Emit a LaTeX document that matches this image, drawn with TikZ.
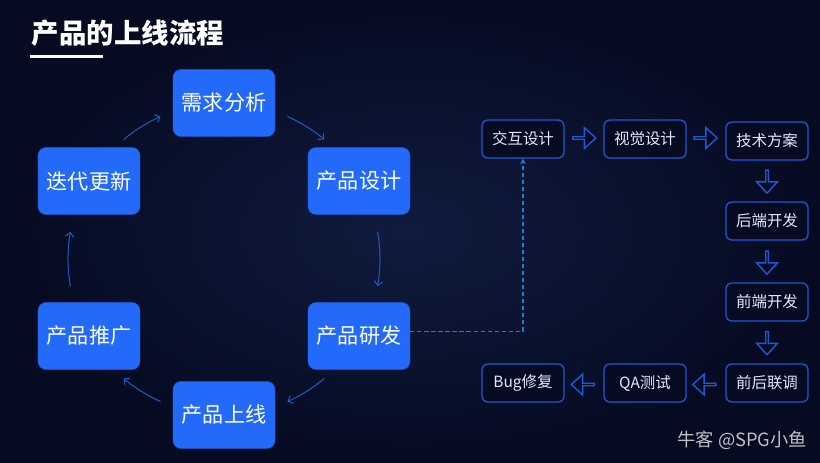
\documentclass[tikz,border=0pt]{standalone}
\usepackage{fontspec}
\setmainfont{Noto Sans CJK SC}
\usetikzlibrary{arrows.meta,shapes.arrows}
\definecolor{bgdark}{HTML}{060B22}
\definecolor{bglight}{HTML}{101B3E}
\definecolor{cycleblue}{HTML}{246AFA}
\definecolor{lineblue}{HTML}{1F5DC4}
\definecolor{boxblue}{HTML}{1E58D8}
\definecolor{dashblue}{HTML}{1F80C4}
\begin{document}
\begin{tikzpicture}[x=0.025cm,y=0.025cm]
        \tikzset{cycle node/.style={rectangle, rounded corners=0.2cm, fill=cycleblue, draw=cycleblue!80!black, line width=0.3pt, minimum width=2.55cm, minimum height=1.675cm, inner sep=0pt, text=white, font=\fontsize{15}{18}\selectfont},
                 flow node/.style={rectangle, rounded corners=0.15cm, fill=bgdark, draw=boxblue, line width=0.9pt, minimum width=2.05cm, minimum height=0.95cm, inner sep=0pt, text=white!90!blue, font=\fontsize{11}{13}\selectfont},
                 block arrow/.style={single arrow, draw=boxblue, fill=bgdark, line width=1pt, minimum height=0.575cm, minimum width=0.52cm, single arrow head extend=0.13cm, single arrow tip angle=85, inner sep=0pt},
                 cycle arrow/.style={draw=lineblue, line width=0.7pt, -{Straight Barb[length=3pt,width=6pt]}}}
        \useasboundingbox (0,0) rectangle (820,462);
        \shade[inner color=bglight, outer color=bgdark] (0,0) rectangle (820,462);
        \node[anchor=west, text=white, font=\fontsize{19.5}{23}\selectfont\bfseries] (title) at (27,429) {产品的上线流程};
        \draw[white, line width=0.075cm] (30,405) -- (103,405);
        \coordinate (c) at (224,203);
        \node[cycle node] (xq) at (224,359) {需求分析};
        \node[cycle node] (sj) at (359,281) {产品设计};
        \node[cycle node] (yf) at (359,126) {产品研发};
        \node[cycle node] (sx) at (224,47) {产品上线};
        \node[cycle node] (tg) at (89,126) {产品推广};
        \node[cycle node] (dd) at (89,281) {迭代更新};
        \foreach \a/\b in {130/114, 66/50, 10/-10, -50/-66, -114/-130, 190/170}
          \draw[cycle arrow] ([shift={(\a:156)}]c) arc[start angle=\a, end angle=\b, radius=156];
        \node[flow node] (jh) at (523,323) {交互设计};
        \node[flow node] (sjue) at (645,323) {视觉设计};
        \node[flow node] (js) at (767,321) {技术方案};
        \node[flow node] (hd) at (767,241) {后端开发};
        \node[flow node] (qd) at (767,160) {前端开发};
        \node[flow node] (lt) at (767,79) {前后联调};
        \node[flow node] (qa) at (645,79) {QA测试};
        \node[flow node] (bug) at (523,79) {Bug修复};
        \node[block arrow] (a1) at (583.5,324) {};
        \node[block arrow] (a2) at (705,324) {};
        \node[block arrow, shape border rotate=270] (a3) at (767,281) {};
        \node[block arrow, shape border rotate=270] (a4) at (767,200) {};
        \node[block arrow, shape border rotate=270] (a5) at (767,119.5) {};
        \node[block arrow, shape border rotate=180] (a6) at (705,77.5) {};
        \node[block arrow, shape border rotate=180] (a7) at (583.5,77.5) {};
        \draw[dashblue, line width=0.8pt, dash pattern=on 3pt off 2pt, -{Stealth[length=4pt,width=4pt]}] ([yshift=0.12cm]yf.east) -| (jh.south);
        \node[anchor=east, text=white!85!gray, opacity=0.8, font=\fontsize{13}{15}\selectfont] (wm) at (812,22) {牛客 @SPG小鱼};
      \end{tikzpicture}
\end{document}
